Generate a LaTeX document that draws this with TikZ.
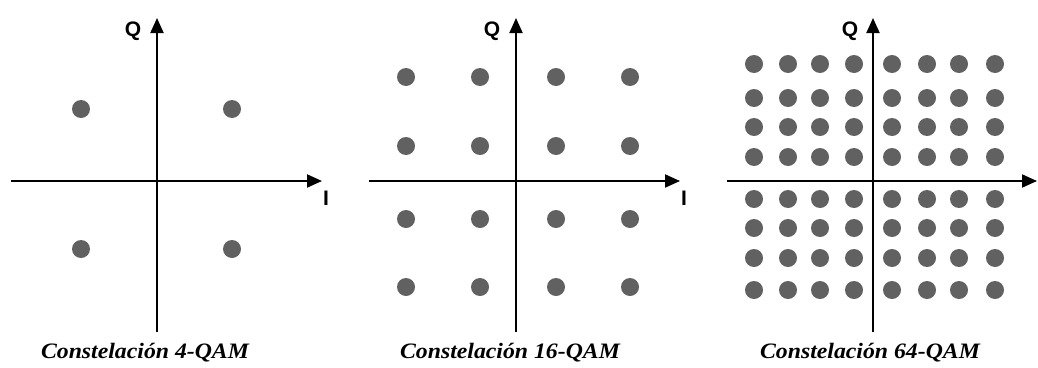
\documentclass[tikz,border=0pt]{standalone}
\usepackage{fontspec}
\usetikzlibrary{arrows.meta}
\newfontfamily\capfont{Liberation Serif}
\newfontfamily\axfont{Liberation Sans}

\tikzset{
  axis/.style={line width=2pt,-{Triangle[length=15pt,width=13pt]}},
  symb/.style={circle,fill=black!62,inner sep=0pt,minimum size=18pt},
  axlabel/.style={font=\axfont\bfseries\fontsize{21}{21}\selectfont},
  caption/.style={font=\capfont\bfseries\itshape\fontsize{22}{22}\selectfont}
}

\begin{document}
\begin{tikzpicture}[x=1pt,y=-1pt]
  \useasboundingbox (0,0) rectangle (1038,367);

  % 4-QAM
  \coordinate (w4) at (11,181);
  \coordinate (e4) at (322,181);
  \coordinate (s4) at (157,332);
  \coordinate (n4) at (157,18);
  \draw[axis] (w4) -- (e4);
  \draw[axis] (s4) -- (n4);
  \foreach \x [count=\i] in {81,232}
    \foreach \y [count=\j] in {109,249}
      \node[symb] (a\i\j) at (\x,\y) {};
  \node[axlabel] (q4) at (133,31) {Q};
  \node[axlabel] (i4) at (326,198) {I};
  \node[caption] (c4) at (145,353) {\scalebox{1.08}[1]{Constelación 4-QAM}};

  % 16-QAM
  \coordinate (w16) at (369,181);
  \coordinate (e16) at (680,181);
  \coordinate (s16) at (516,332);
  \coordinate (n16) at (516,18);
  \draw[axis] (w16) -- (e16);
  \draw[axis] (s16) -- (n16);
  \foreach \x [count=\i] in {406,480,556,630}
    \foreach \y [count=\j] in {77,146,219,287}
      \node[symb] (b\i\j) at (\x,\y) {};
  \node[axlabel] (q16) at (492,31) {Q};
  \node[axlabel] (i16) at (684,198) {I};
  \node[caption] (c16) at (510,353) {\scalebox{1.08}[1]{Constelación 16-QAM}};

  % 64-QAM
  \coordinate (w64) at (727,181);
  \coordinate (e64) at (1037,181);
  \coordinate (s64) at (873,332);
  \coordinate (n64) at (873,18);
  \draw[axis] (w64) -- (e64);
  \draw[axis] (s64) -- (n64);
  \foreach \x [count=\i] in {754,788,820,854,892,927,959,995}
    \foreach \y [count=\j] in {64,98,127,157,199,228,258,290}
      \node[symb] (c\i\j) at (\x,\y) {};
  \node[axlabel] (q64) at (850,31) {Q};
  \node[caption] (c64) at (870,353) {\scalebox{1.08}[1]{Constelación 64-QAM}};

\end{tikzpicture}
\end{document}
